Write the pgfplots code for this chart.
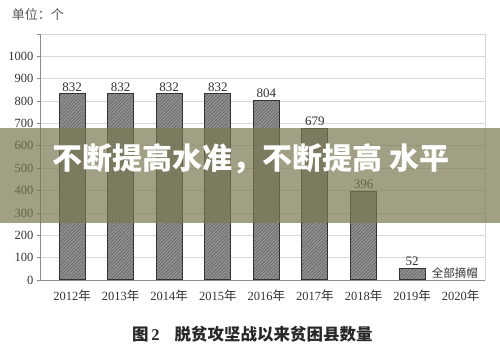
\documentclass[border=0pt]{standalone}
\usepackage{pgfplots}
\pgfplotsset{compat=1.18}
\usepackage{fontspec}
\setmainfont{Liberation Serif}
\newfontfamily\cjk{Noto Sans CJK SC}
\usetikzlibrary{patterns.meta}
\definecolor{gridc}{RGB}{215,215,215}
\definecolor{axc}{RGB}{140,140,140}
\definecolor{txt}{RGB}{50,50,50}
\definecolor{barfill}{RGB}{145,145,145}
\definecolor{barhatch}{RGB}{100,100,100}
\definecolor{barline}{RGB}{50,50,50}
\definecolor{band}{RGB}{122,120,80}
\begin{document}
\begin{tikzpicture}
\path[use as bounding box] (0,0) rectangle (500pt,353pt);
\begin{axis}[
  at={(40pt,73pt)}, anchor=south west,
  scale only axis, width=445pt, height=246pt,
  xmin=-0.66, xmax=8.5, ymin=0, ymax=1100,
  axis x line*=bottom, axis y line*=left,
  x axis line style={axc, line width=0.9pt, -},
  y axis line style={axc, line width=0.9pt, -},
  ytick={0,100,...,1100},
  yticklabels={0,100,200,300,400,500,600,700,800,900,1000,},
  ymajorgrids, grid style={gridc, line width=0.8pt},
  major tick length=3pt,
  ytick style={axc, line width=0.8pt},
  tick align=outside,
  xtick={0,...,8},
  xtick style={draw=none},
  xticklabels={2012{\cjk 年},2013{\cjk 年},2014{\cjk 年},2015{\cjk 年},2016{\cjk 年},2017{\cjk 年},2018{\cjk 年},2019{\cjk 年},2020{\cjk 年}},
  xticklabel style={font=\fontsize{12.5}{14}\selectfont, text=txt, yshift=-3pt},
  yticklabel style={font=\fontsize{12.5}{14}\selectfont, text=txt},
  /pgf/number format/assume math mode=true,
  clip=false,
]
\addplot[ybar, bar width=26pt, fill=barfill, draw=barline, line width=1pt,
  postaction={pattern={Lines[angle=45,distance=2.4pt,line width=0.6pt]}, pattern color=barhatch},
  nodes near coords,
  every node near coord/.append style={font=\fontsize{13}{15}\selectfont, text=txt, inner sep=2pt},
] coordinates {(0,832) (1,832) (2,832) (3,832) (4,804) (5,679) (6,396) (7,52)};
\draw[gridc, line width=0.8pt] (rel axis cs:1,0) -- (rel axis cs:1,1);
\node[font=\cjk\fontsize{11.5}{13}\selectfont, text=txt] at (axis cs:7.88,31) {全部摘帽};
\end{axis}
\node[anchor=center, font=\cjk\fontsize{13}{15}\selectfont, text={rgb,255:red,85;green,85;blue,85}] at (38pt,338pt) {单位：个};
\node[anchor=west, font=\fontsize{16.5}{18}\selectfont\bfseries, text={rgb,255:red,40;green,40;blue,40}, inner sep=0pt] at (132pt,19pt) {{\cjk 图}\,2\hspace{15pt}{\cjk 脱贫攻坚战以来贫困县数量}};
\fill[band, opacity=0.7] (0,130pt) rectangle (500pt,225pt);
\node[anchor=west, font=\cjk\bfseries\fontsize{30}{33}\selectfont, text=white, inner sep=0pt] at (52pt,194pt) {不断提高水准，不断提高 水平};
\end{tikzpicture}
\end{document}
